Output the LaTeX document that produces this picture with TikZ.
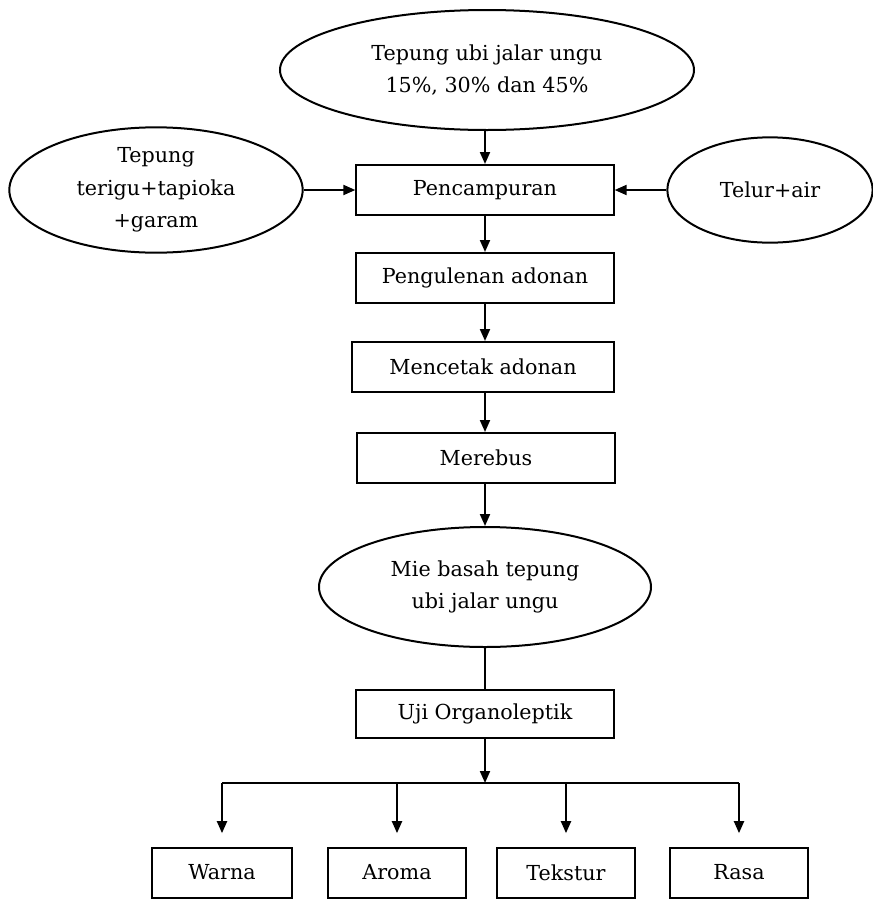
\documentclass[tikz,border=0pt]{standalone}
\usepackage{fontspec}
\setmainfont{DejaVu Serif}
\usetikzlibrary{arrows.meta,shapes.geometric}
\begin{document}
\begin{tikzpicture}[x=0.75pt,y=-0.75pt,
  every node/.style={font=\fontsize{15.5}{24.5}\selectfont, align=center},
  procbox/.style={draw, line width=1.5pt, rectangle, minimum height=37.5pt, inner sep=0pt},
  oval/.style={draw, line width=1.5pt, ellipse, inner sep=0pt},
  conn/.style={line width=1.5pt},
  arr/.style={conn, -{Triangle[length=9pt,width=7.5pt]}}]
\useasboundingbox (0,0) rectangle (872,900);
% ovals
\node[oval, minimum width=310.5pt, minimum height=90pt] (top) at (487,70) {Tepung ubi jalar ungu\\15\%, 30\% dan 45\%};
\node[oval, minimum width=220pt, minimum height=94pt] (left) at (156,190) {Tepung\\terigu+tapioka\\+garam};
\node[oval, minimum width=154pt, minimum height=79pt] (right) at (770,190) {Telur+air};
% process boxes
\node[procbox, minimum width=193pt] (mix) at (485,190) {Pencampuran};
\node[procbox, minimum width=193pt] (knead) at (485,278) {Pengulenan adonan};
\node[procbox, minimum width=196pt] (mold) at (483,367) {Mencetak adonan};
\node[procbox, minimum width=193pt] (boil) at (486,458) {Merebus};
\node[oval, minimum width=249pt, minimum height=90pt] (mie) at (485,587) {Mie basah tepung\\ubi jalar ungu};
\node[procbox, minimum width=193pt, minimum height=36pt] (uji) at (485,714) {Uji Organoleptik};
% bottom boxes
\node[procbox, minimum width=105pt] (warna) at (222,872.5) {Warna};
\node[procbox, minimum width=104pt] (aroma) at (397,872.5) {Aroma};
\node[procbox, minimum width=104pt] (tekstur) at (566,872.5) {Tekstur};
\node[procbox, minimum width=104pt] (rasa) at (739,872.5) {Rasa};
\coordinate (j) at (485,783);
% connectors
\draw[arr] (top.south -| mix.north) -- (mix.north);
\draw[arr] (left.east) -- (mix.west);
\draw[arr] (right.west) -- (mix.east);
\draw[arr] (mix.south) -- (knead.north);
\draw[arr] (knead.south) -- (knead.south |- mold.north);
\draw[arr] (knead.south |- mold.south) -- (knead.south |- boil.north);
\draw[arr] (knead.south |- boil.south) -- (mie.north);
\draw[conn] (mie.south) -- (uji.north);
\draw[arr] (uji.south) -- (j);
\draw[conn] (warna.north |- j) -- (rasa.north |- j);
\foreach \b in {warna,aroma,tekstur,rasa}
  \draw[arr, shorten >=10pt] (\b.north |- j) -- (\b.north);
\end{tikzpicture}
\end{document}
